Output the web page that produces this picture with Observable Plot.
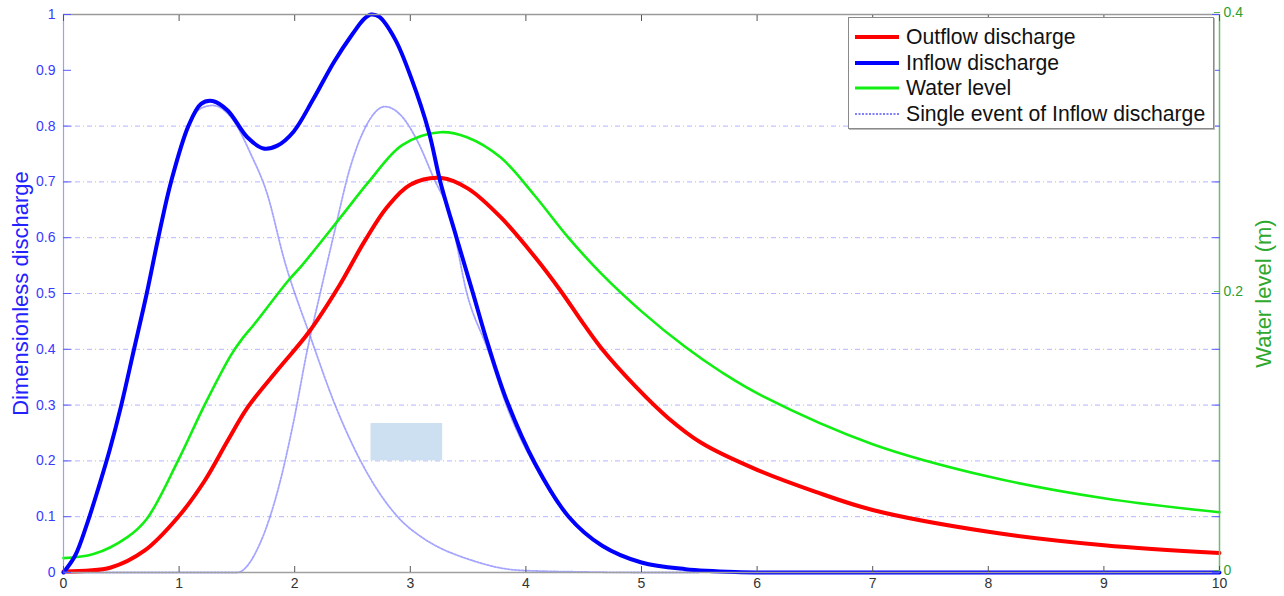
<!DOCTYPE html>
<html>
<head>
<meta charset="utf-8">
<script src="https://cdn.jsdelivr.net/npm/d3@7"></script>
<script src="https://cdn.jsdelivr.net/npm/@observablehq/plot@0.6"></script>
<style>
  html, body { margin: 0; padding: 0; background: #fff; }
  #wrap { position: relative; width: 1284px; height: 596px; font-family: "Liberation Sans", Arial, sans-serif; }
  #legend { position: absolute; left: 848px; top: 17px; width: 364px; height: 110px; border: 1px solid #8a8a8a; background: #fff; box-shadow: 1px 1px 0 #bbb; }
  .row { position: absolute; left: 0; height: 24px; display: flex; align-items: center; font-size: 21.2px; color: #111; white-space: nowrap; }
  .row svg { margin-left: 6px; margin-right: 7px; }
</style>
</head>
<body>
<div id="wrap"></div>
<script>
// ---- data ----
const xTicks = [0, 1, 2, 3, 4, 5, 6, 7, 8, 9, 10];
const yTicks = [0, 0.1, 0.2, 0.3, 0.4, 0.5, 0.6, 0.7, 0.8, 0.9, 1];
const yTickLabels = ["0", "0.1", "0.2", "0.3", "0.4", "0.5", "0.6", "0.7", "0.8", "0.9", "1"];
const gridValues = [0, 0.1, 0.2, 0.3, 0.4, 0.5, 0.6, 0.7, 0.8];
const waterTicks = [0, 0.2, 0.4];          // right axis (m)
const waterMax = 0.4;

const inflowX = [0, 0.1, 0.2, 0.3, 0.4, 0.5, 0.61, 0.72, 0.82, 0.93, 1.08, 1.19, 1.29, 1.42, 1.59, 1.73, 1.85, 1.99, 2.16, 2.34, 2.5, 2.6, 2.66, 2.73, 2.87, 3.01, 3.16, 3.26, 3.40, 3.54, 3.67, 3.84, 4.08, 4.37, 4.66, 5.0, 5.38, 5.81, 6.3, 8, 10];
const inflowY = [0, 0.03, 0.085, 0.15, 0.22, 0.3, 0.4, 0.5, 0.6, 0.7, 0.8, 0.84, 0.845, 0.828, 0.78, 0.76, 0.765, 0.79, 0.848, 0.915, 0.965, 0.992, 1.0, 0.996, 0.955, 0.885, 0.79, 0.70, 0.60, 0.502, 0.41, 0.305, 0.195, 0.10, 0.048, 0.018, 0.006, 0.001, 0, 0, 0];

const outflowX = [0, 0.41, 0.70, 0.99, 1.22, 1.42, 1.59, 1.86, 2.12, 2.38, 2.6, 2.8, 3.0, 3.27, 3.5, 3.79, 4.08, 4.3, 4.5, 4.66, 4.95, 5.23, 5.52, 6.0, 6.5, 7, 8, 9, 10];
const outflowY = [0.002, 0.009, 0.039, 0.099, 0.164, 0.236, 0.295, 0.365, 0.43, 0.512, 0.592, 0.655, 0.695, 0.707, 0.688, 0.635, 0.565, 0.505, 0.445, 0.40, 0.333, 0.277, 0.232, 0.184, 0.145, 0.112, 0.073, 0.049, 0.035];

const levelX = [0, 0.26, 0.55, 0.72, 0.99, 1.22, 1.45, 1.55, 1.65, 1.94, 2.065, 2.41, 2.64, 2.93, 3.26, 3.49, 3.78, 4.07, 4.36, 4.65, 5.0, 5.38, 5.7, 6.04, 7, 8, 9, 10];
const levelM = [0.0103, 0.0132, 0.0252, 0.0384, 0.08, 0.12, 0.156, 0.168, 0.178, 0.2088, 0.2204, 0.256, 0.28, 0.3064, 0.3156, 0.312, 0.2976, 0.2708, 0.2408, 0.2144, 0.1872, 0.1616, 0.1432, 0.1268, 0.092, 0.0688, 0.0532, 0.0432];

const event1X = [0, 0.1, 0.2, 0.3, 0.4, 0.5, 0.61, 0.72, 0.82, 0.93, 1.08, 1.19, 1.29, 1.47, 1.62, 1.76, 1.91, 2.14, 2.35, 2.57, 2.89, 3.10, 3.22, 3.5, 3.94, 4.5, 5.0, 5.5];
const event1Y = [0, 0.03, 0.085, 0.15, 0.22, 0.3, 0.4, 0.5, 0.6, 0.7, 0.8, 0.832, 0.837, 0.81, 0.75, 0.68, 0.56, 0.42, 0.30, 0.2, 0.1, 0.063, 0.048, 0.024, 0.004, 0.001, 0, 0];
const event2X = [0, 0.4, 0.8, 1.1, 1.3, 1.5, 1.71, 1.86, 1.99, 2.11, 2.22, 2.34, 2.48, 2.63, 2.78, 2.92, 3.06, 3.2, 3.35, 3.49, 3.67, 3.84, 4.08, 4.37, 4.66, 5.0, 5.38, 5.81, 6.3];
const event2Y = [0, 0, 0, 0, 0, 0, 0.057, 0.152, 0.27, 0.40, 0.5, 0.607, 0.726, 0.805, 0.835, 0.819, 0.774, 0.708, 0.636, 0.50, 0.40, 0.295, 0.19, 0.098, 0.047, 0.018, 0.006, 0.001, 0];

const patchX = [2.66, 3.28];
const patchY = [0.2, 0.267];

const legendItems = [
  {name: "Outflow discharge", color: "#ff0000", width: 4, dash: null},
  {name: "Inflow discharge", color: "#0000ff", width: 4, dash: null},
  {name: "Water level", color: "#11ee11", width: 3, dash: null},
  {name: "Single event of Inflow discharge", color: "#8080ff", width: 1.8, dash: "2,1.5"}
];

// ---- tables ----
const zip = (xs, ys, extra = {}) => xs.map((x, i) => ({x, y: ys[i], ...extra}));
const inflow = zip(inflowX, inflowY);
const outflow = zip(outflowX, outflowY);
const level = levelX.map((x, i) => ({x, y: levelM[i] / waterMax}));
const events = [...zip(event1X, event1Y, {k: "e1"}), ...zip(event2X, event2Y, {k: "e2"})];
const patch = [{x1: patchX[0], x2: patchX[1], y1: patchY[0], y2: patchY[1]}];

const FONT = "Liberation Sans, Arial, sans-serif";
const blank = () => "";
const CURVE = "catmull-rom";

const chart = Plot.plot({
  width: 1284,
  height: 596,
  marginLeft: 63,
  marginRight: 65,
  marginTop: 14,
  marginBottom: 24,
  style: {fontFamily: FONT, fontSize: "13.5px", background: "transparent"},
  x: {domain: [0, 10]},
  y: {domain: [0, 1]},
  marks: [
    Plot.ruleY(gridValues, {stroke: "#b4b4ff", strokeWidth: 1, strokeDasharray: "5,3,1,3"}),
    Plot.rect(patch, {x1: "x1", x2: "x2", y1: "y1", y2: "y2", fill: "#cde0f1"}),
    Plot.line(events, {x: "x", y: "y", z: "k", stroke: "#7f7fff", strokeWidth: 1.8, strokeDasharray: "2,1.5", strokeOpacity: 0.7, curve: "monotone-x"}),
    Plot.line(level, {x: "x", y: "y", stroke: "#11ee11", strokeWidth: 2.6, curve: CURVE}),
    Plot.line(outflow, {x: "x", y: "y", stroke: "#ff0000", strokeWidth: 4, curve: CURVE}),
    Plot.line(inflow, {x: "x", y: "y", stroke: "#0000ff", strokeWidth: 4, curve: CURVE}),
    // frame lines
    Plot.ruleY([1], {stroke: "#9a9a9a", strokeWidth: 1.5}),
    Plot.ruleY([0], {stroke: "#a0a0a0", strokeWidth: 1.5}),
    Plot.ruleX([0], {stroke: "#9d9dff", strokeWidth: 1.2}),
    Plot.ruleX([10], {stroke: "#70bb70", strokeWidth: 1.5}),
    // x axis: inner ticks bottom and top, labels
    Plot.axisX({anchor: "bottom", ticks: xTicks, tickSize: -6, tickFormat: blank, stroke: "#555", label: null}),
    Plot.axisX({anchor: "top", ticks: xTicks, tickSize: -6, tickFormat: blank, stroke: "#555", label: null}),
    Plot.axisX({anchor: "bottom", ticks: xTicks, tickSize: 0, tickPadding: 6, tickFormat: d => String(d), fill: "#333", fontSize: 14, label: null}),
    // left y axis
    Plot.axisY({anchor: "left", ticks: yTicks, tickSize: -8, tickFormat: blank, stroke: "#5a5aff", label: null}),
    Plot.axisY({anchor: "left", ticks: yTicks, tickSize: 0, tickPadding: 8, tickFormat: (d, i) => yTickLabels[i], fill: "#3a3aff", fontSize: 14, label: null}),
    // right: blue mirror ticks, green water-level ticks
    Plot.axisY({anchor: "right", ticks: yTicks, tickSize: -8, tickFormat: blank, stroke: "#5a5aff", label: null}),
    Plot.axisY({anchor: "right", ticks: waterTicks.map(v => v / waterMax), tickSize: -6, tickPadding: 10, dy: -2, tickFormat: (d, i) => String(waterTicks[i]), stroke: "#5cb85c", fill: "#2e9e2e", fontSize: 14, label: null}),
    // axis titles
    Plot.text(["Dimensionless discharge"], {frameAnchor: "left", dx: -43, rotate: -90, fill: "#2222ff", fontSize: 22, textAnchor: "middle"}),
    Plot.text(["Water level (m)"], {frameAnchor: "right", dx: 44, rotate: -90, fill: "#2ea82e", fontSize: 22, textAnchor: "middle"})
  ]
});

const wrap = document.getElementById("wrap");
wrap.appendChild(chart);

// legend
const legend = document.createElement("div");
legend.id = "legend";
legendItems.forEach((it, i) => {
  const row = document.createElement("div");
  row.className = "row";
  row.style.top = (7 + i * 25.5) + "px";
  const dash = it.dash ? ` stroke-dasharray="${it.dash}"` : "";
  row.innerHTML = `<svg width="44" height="10"><line x1="0" x2="44" y1="5" y2="5" stroke="${it.color}" stroke-width="${it.width}"${dash}/></svg><span>${it.name}</span>`;
  legend.appendChild(row);
});
wrap.appendChild(legend);
</script>
</body>
</html>
